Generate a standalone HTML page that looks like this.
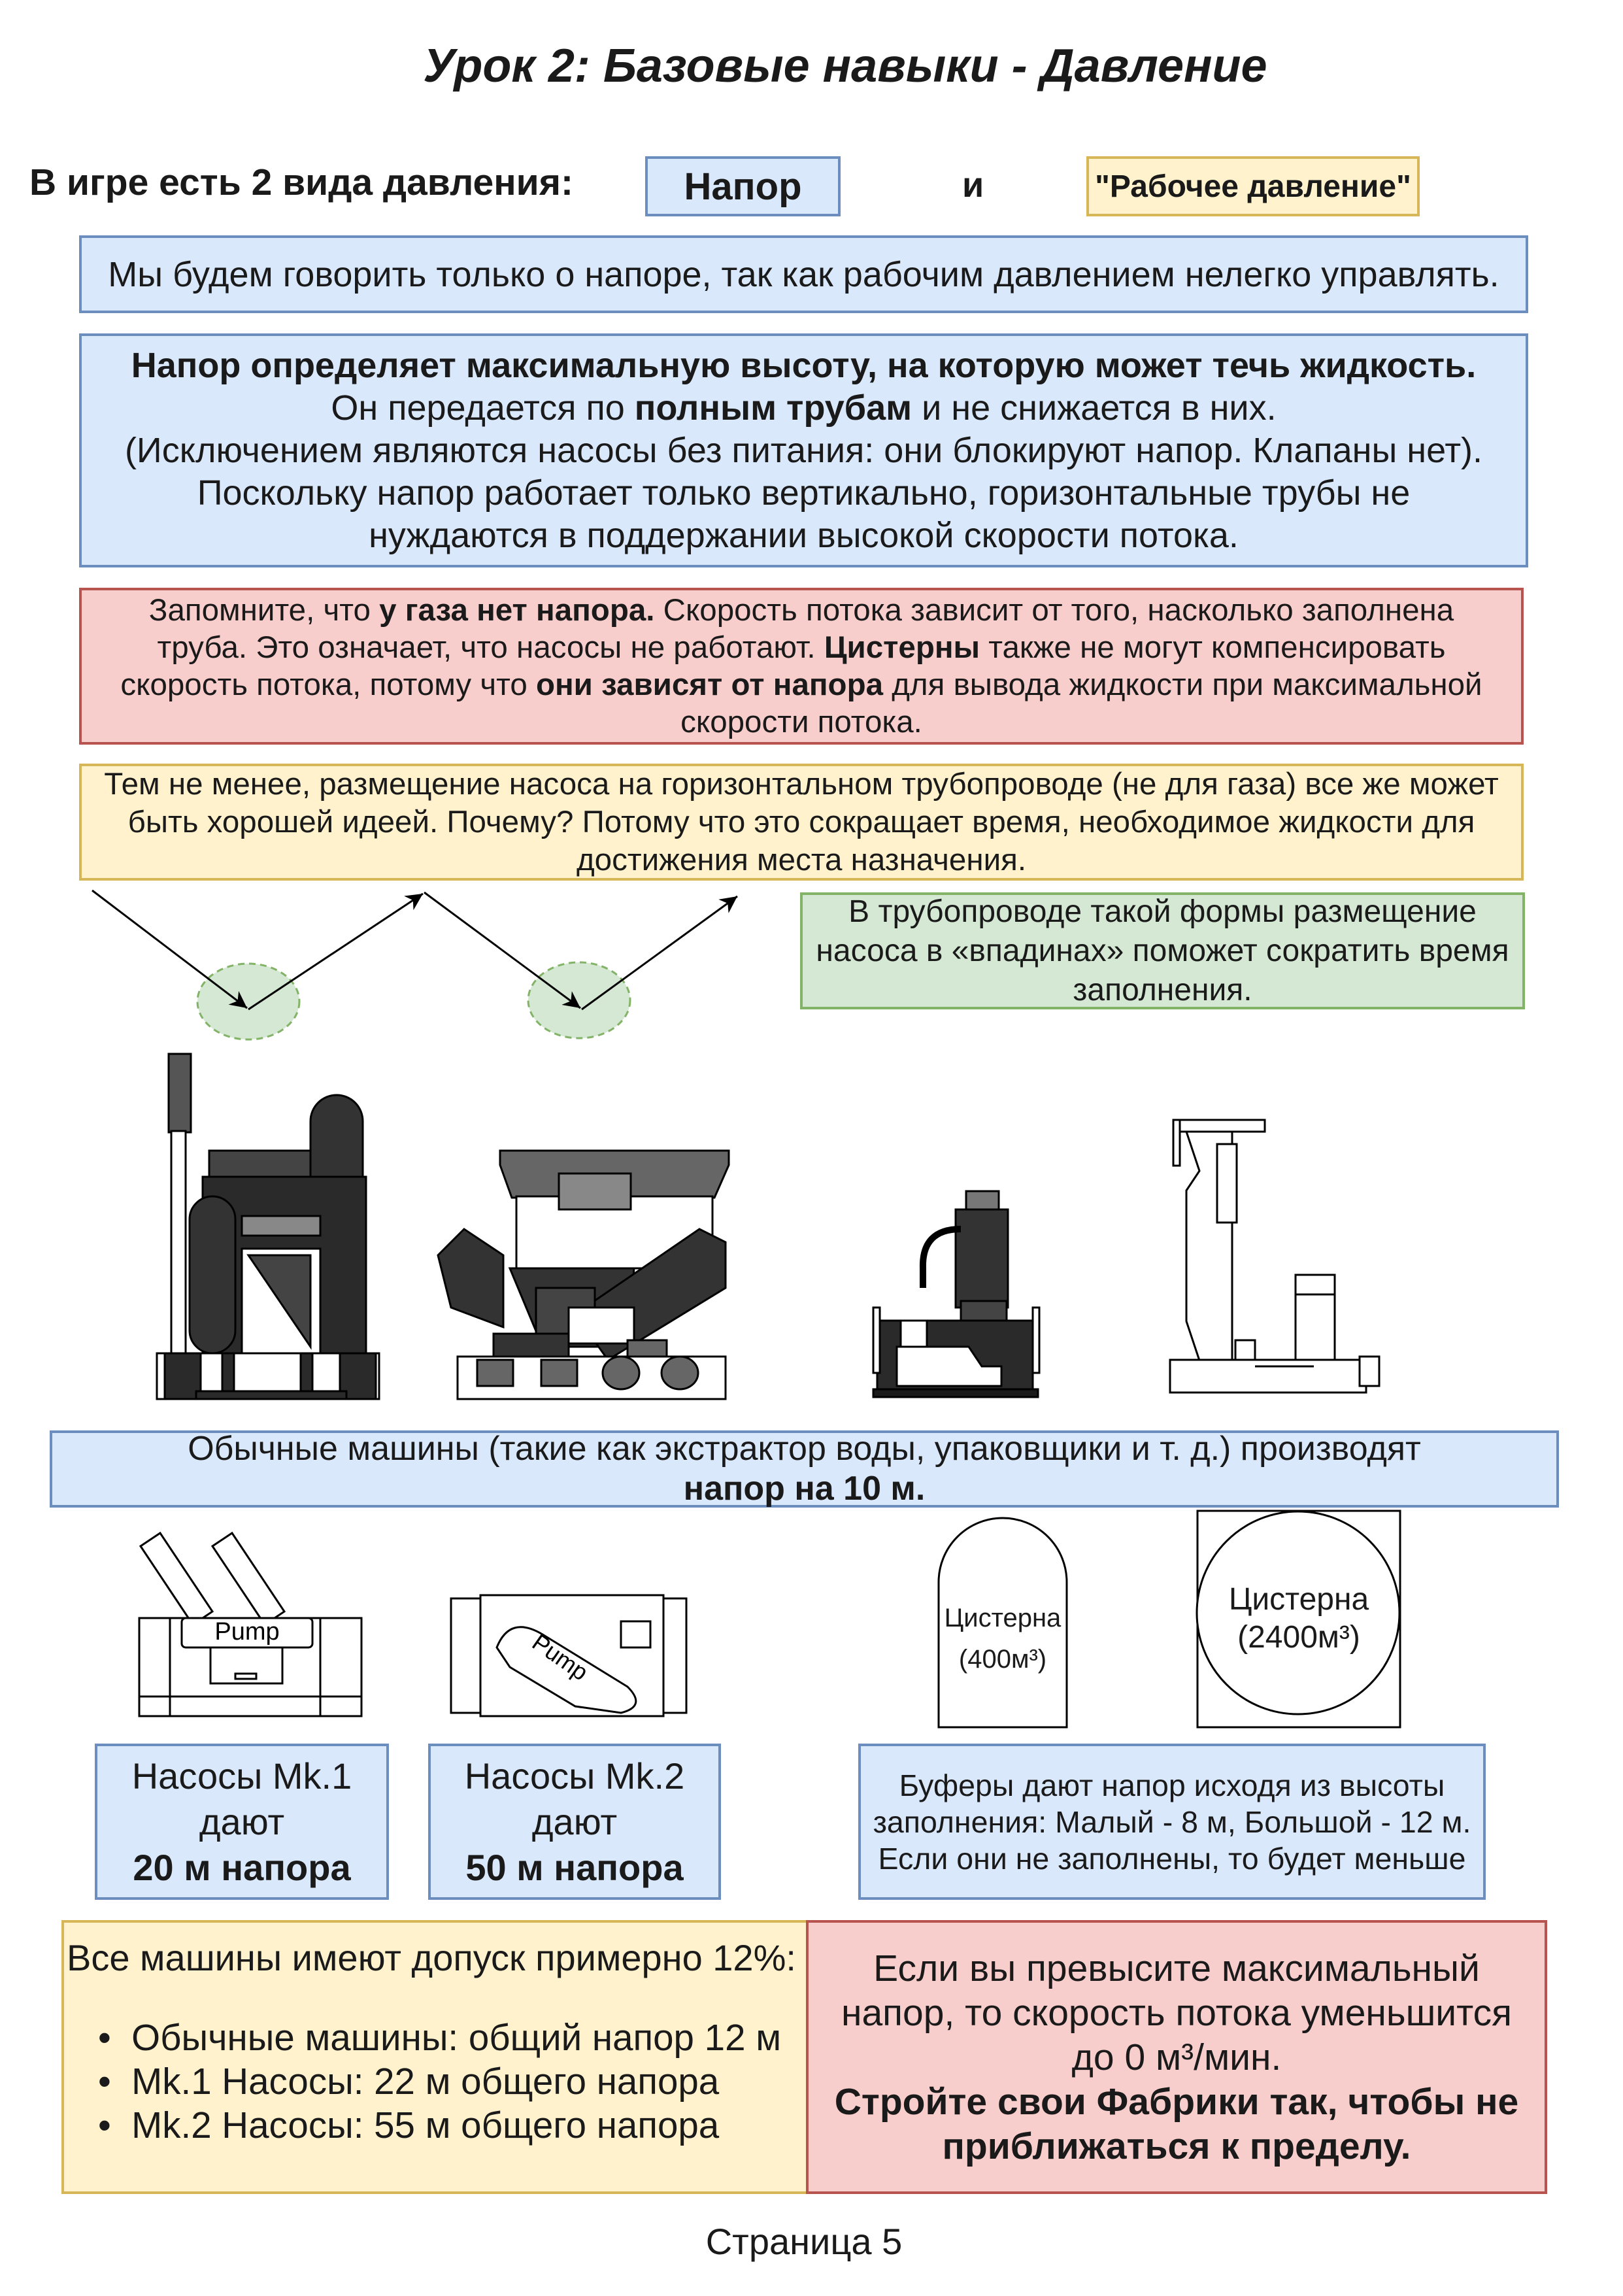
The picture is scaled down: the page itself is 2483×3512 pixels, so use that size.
<!DOCTYPE html>
<html><head><meta charset="utf-8"><style>
body{margin:0;background:#fff;}
#p{position:relative;width:2483px;height:3512px;overflow:hidden;font-family:"Liberation Sans",Arial,sans-serif;color:#1a1a1a;}
.b{position:absolute;box-sizing:border-box;border:4px solid;display:flex;align-items:center;justify-content:center;text-align:center;flex-direction:column;white-space:nowrap;}
.bl{background:#dae8fc;border-color:#6c8ebf;}
.ye{background:#fff2cc;border-color:#d6b656;}
.rd{background:#f8cecc;border-color:#b85450;}
.gr{background:#d5e8d4;border-color:#82b366;}
.t{position:absolute;white-space:nowrap;}
svg{position:absolute;left:0;top:0;}
</style></head><body><div id="p">
<svg width="2483" height="3512" viewBox="0 0 2483 3512">
<defs>
<marker id="m" markerWidth="26" markerHeight="26" refX="10" refY="5" orient="auto" markerUnits="userSpaceOnUse" viewBox="0 0 10 10"><path d="M0,0 L10,5 L0,10 L3,5z" fill="#000"/></marker></defs>
<ellipse cx="380" cy="1532" rx="78" ry="58" fill="#d5e8d4" stroke="#82b366" stroke-width="3" stroke-dasharray="10,7"/>
<ellipse cx="886" cy="1530" rx="78" ry="58" fill="#d5e8d4" stroke="#82b366" stroke-width="3" stroke-dasharray="10,7"/>
<g stroke="#000" stroke-width="3" fill="none" marker-end="url(#m)">
<line x1="141" y1="1362" x2="378" y2="1542"/>
<line x1="380" y1="1544" x2="647" y2="1367"/>
<line x1="649" y1="1365" x2="888" y2="1542"/>
<line x1="890" y1="1544" x2="1128" y2="1371"/>
</g>
<!-- machine 1 -->
<g stroke="#000" stroke-width="3">
<rect x="258" y="1612" width="34" height="120" fill="#555"/>
<rect x="262" y="1730" width="22" height="350" fill="#fff"/>
<path d="M320 1760 h170 v60 h-150 v80 h-20z" fill="#444"/>
<rect x="475" y="1675" width="80" height="400" rx="40" fill="#333"/>
<rect x="310" y="1800" width="250" height="340" fill="#2a2a2a"/>
<rect x="290" y="1830" width="70" height="240" rx="35" fill="#333"/>
<rect x="370" y="1860" width="120" height="30" fill="#888"/>
<rect x="370" y="1910" width="120" height="200" fill="#fff"/>
<path d="M380 1920 h95 v140z" fill="#444"/>
<rect x="240" y="2070" width="340" height="70" fill="#fff"/>
<rect x="252" y="2070" width="55" height="70" fill="#2a2a2a"/><rect x="520" y="2070" width="55" height="70" fill="#2a2a2a"/>
<rect x="340" y="2070" width="18" height="65" fill="#2a2a2a"/><rect x="460" y="2070" width="18" height="65" fill="#2a2a2a"/>
<rect x="300" y="2128" width="230" height="12" fill="#2a2a2a"/>
</g>
<!-- machine 2 -->
<g stroke="#000" stroke-width="3">
<path d="M765 1760 h350 v22 l-22 50 h-310 l-18-50z" fill="#666"/>
<rect x="790" y="1830" width="300" height="110" fill="#fff"/>
<rect x="855" y="1795" width="110" height="55" fill="#888"/>
<path d="M780 1940 h190 l-10 120 h-130z" fill="#333"/>
<path d="M670 1920 l40-40 l60 40 l0 110 l-80 -30z" fill="#333"/>
<path d="M880 2010 l190 -130 l40 20 l0 70 l-180 110z" fill="#333"/>
<rect x="820" y="1970" width="90" height="80" fill="#444"/>
<rect x="870" y="2000" width="100" height="55" fill="#fff"/>
<rect x="755" y="2040" width="115" height="72" fill="#333"/>
<rect x="960" y="2050" width="60" height="40" fill="#666"/>
<rect x="700" y="2075" width="410" height="65" fill="#fff"/>
<rect x="730" y="2080" width="55" height="40" fill="#666"/><rect x="828" y="2080" width="55" height="40" fill="#666"/>
<ellipse cx="950" cy="2100" rx="28" ry="25" fill="#666"/><ellipse cx="1040" cy="2100" rx="28" ry="25" fill="#666"/>
</g>
<!-- machine 3 -->
<g stroke="#000" stroke-width="3">
<rect x="1478" y="1822" width="50" height="30" fill="#777"/>
<rect x="1462" y="1850" width="80" height="150" fill="#333"/>
<path d="M1470 1880 q-60 0 -58 60 v30" stroke-width="10" fill="none"/>
<rect x="1470" y="1990" width="70" height="35" fill="#444"/>
<rect x="1342" y="2020" width="238" height="112" fill="#2a2a2a"/>
<rect x="1378" y="2020" width="40" height="40" fill="#fff"/>
<path d="M1372 2060 h110 l20 30 h30 v30 h-160z" fill="#fff"/>
<rect x="1336" y="2125" width="252" height="12" fill="#1a1a1a"/>
<rect x="1336" y="2000" width="10" height="100" fill="#fff"/><rect x="1580" y="2000" width="10" height="100" fill="#fff"/>
</g>
<!-- machine 4 -->
<g stroke="#000" stroke-width="3" fill="#fff">
<rect x="1795" y="1713" width="140" height="18"/>
<rect x="1795" y="1713" width="10" height="70"/>
<path d="M1815 1731 h70 v350 h-50 l-20 -60 v-200 l20 -30z"/>
<rect x="1862" y="1750" width="30" height="120"/>
<rect x="1982" y="1950" width="60" height="30"/>
<path d="M1982 1980 h60 v110 l-15 30 h-30 l-15 -30z"/>
<rect x="1790" y="2080" width="300" height="50"/>
<rect x="2080" y="2075" width="30" height="45"/>
<rect x="1890" y="2050" width="30" height="30"/>
<line x1="1920" y1="2090" x2="2010" y2="2090"/>
</g>
<!-- pump mk1 -->
<g stroke="#000" stroke-width="3" fill="#fff">
<path d="M215 2365 l30 -20 l80 120 l-30 20z"/>
<path d="M325 2365 l30 -20 l80 120 l-30 20z"/>
<rect x="213" y="2475" width="340" height="150"/>
<rect x="278" y="2475" width="200" height="45" rx="6"/>
<rect x="322" y="2520" width="110" height="55"/>
<rect x="360" y="2560" width="32" height="8"/>
<line x1="213" y1="2595" x2="553" y2="2595"/>
<line x1="490" y1="2475" x2="490" y2="2625"/>
<line x1="260" y1="2475" x2="260" y2="2625"/>
</g>
<text x="378" y="2508" font-family="Liberation Sans,sans-serif" font-size="38" text-anchor="middle" fill="#000">Pump</text>
<!-- pump mk2 -->
<g stroke="#000" stroke-width="3" fill="#fff">
<rect x="690" y="2445" width="360" height="175"/>
<rect x="735" y="2440" width="280" height="185"/>
<path d="M760 2520 q20 -50 70 -20 l130 80 q30 30 -10 40 l-70 -10 l-100 -60z"/>
<rect x="950" y="2480" width="45" height="40"/>
</g>
<text x="850" y="2545" font-family="Liberation Sans,sans-serif" font-size="36" fill="#000" transform="rotate(35 850 2545)" text-anchor="middle">Pump</text>
<!-- tanks -->
<path d="M1436 2642 V2420 A98 98 0 0 1 1632 2420 V2642 Z" fill="#fff" stroke="#000" stroke-width="3"/>
<rect x="1832" y="2311" width="310" height="331" fill="#fff" stroke="#000" stroke-width="3"/>
<circle cx="1986" cy="2467" r="155" fill="#fff" stroke="#000" stroke-width="3"/>
</svg>

<div class="t" style="left:0;width:2586px;top:60px;font-size:72px;font-weight:bold;font-style:italic;text-align:center;">Урок 2: Базовые навыки - Давление</div>
<div class="t" style="left:45px;top:246px;font-size:57px;font-weight:bold;">В игре есть 2 вида давления:</div>
<div class="b bl" style="left:987px;top:239px;width:299px;height:92px;font-size:58px;font-weight:bold;">Напор</div>
<div class="t" style="left:1472px;top:252px;font-size:54px;font-weight:bold;">и</div>
<div class="b ye" style="left:1662px;top:239px;width:510px;height:92px;font-size:48px;font-weight:bold;">"Рабочее давление"</div>
<div class="b bl" style="left:121px;top:360px;width:2217px;height:119px;font-size:54px;">Мы будем говорить только о напоре, так как рабочим давлением нелегко управлять.</div>
<div class="b bl" style="left:121px;top:510px;width:2217px;height:358px;font-size:54px;line-height:65px;"><div><b>Напор определяет максимальную высоту, на которую может течь жидкость.</b><br>Он передается по <b>полным трубам</b> и не снижается в них.<br>(Исключением являются насосы без питания: они блокируют напор. Клапаны нет).<br>Поскольку напор работает только вертикально, горизонтальные трубы не<br>нуждаются в поддержании высокой скорости потока.</div></div>
<div class="b rd" style="left:121px;top:899px;width:2210px;height:240px;font-size:47.5px;line-height:57px;"><div>Запомните, что <b>у газа нет напора.</b> Скорость потока зависит от того, насколько заполнена<br>труба. Это означает, что насосы не работают. <b>Цистерны</b> также не могут компенсировать<br>скорость потока, потому что <b>они зависят от напора</b> для вывода жидкости при максимальной<br>скорости потока.</div></div>
<div class="b ye" style="left:121px;top:1168px;width:2210px;height:179px;font-size:47.5px;line-height:58px;"><div>Тем не менее, размещение насоса на горизонтальном трубопроводе (не для газа) все же может<br>быть хорошей идеей. Почему? Потому что это сокращает время, необходимое жидкости для<br>достижения места назначения.</div></div>
<div class="b gr" style="left:1224px;top:1365px;width:1109px;height:179px;font-size:48px;line-height:60px;"><div>В трубопроводе такой формы размещение<br>насоса в «впадинах» поможет сократить время<br>заполнения.</div></div>
<div class="b bl" style="left:76px;top:2188px;width:2309px;height:118px;font-size:52px;line-height:61px;"><div>Обычные машины (такие как экстрактор воды, упаковщики и т. д.) производят<br><b>напор на 10 м.</b></div></div>
<div class="t" style="left:1436px;width:196px;top:2444px;font-size:40px;text-align:center;line-height:63px;">Цистерна<br>(400м³)</div>
<div class="t" style="left:1832px;width:310px;top:2418px;font-size:48px;text-align:center;line-height:58px;">Цистерна<br>(2400м³)</div>
<div class="b bl" style="left:145px;top:2667px;width:450px;height:239px;font-size:56px;line-height:70px;"><div>Насосы Mk.1<br>дают<br><b>20 м напора</b></div></div>
<div class="b bl" style="left:655px;top:2667px;width:448px;height:239px;font-size:56px;line-height:70px;"><div>Насосы Mk.2<br>дают<br><b>50 м напора</b></div></div>
<div class="b bl" style="left:1313px;top:2667px;width:960px;height:239px;font-size:46.5px;line-height:56px;"><div>Буферы дают напор исходя из высоты<br>заполнения: Малый - 8 м, Большой - 12 м.<br>Если они не заполнены, то будет меньше</div></div>
<div class="b ye" style="left:94px;top:2937px;width:1143px;height:419px;"></div>
<div class="t" style="left:102px;top:2962px;font-size:56px;">Все машины имеют допуск примерно 12%:</div>
<div class="t" style="left:150px;top:3083px;font-size:56.5px;line-height:67px;">•&nbsp; Обычные машины: общий напор 12 м<br>•&nbsp; Mk.1 Насосы: 22 м общего напора<br>•&nbsp; Mk.2 Насосы: 55 м общего напора</div>
<div class="b rd" style="left:1233px;top:2937px;width:1134px;height:419px;font-size:57px;line-height:68px;"><div>Если вы превысите максимальный<br>напор, то скорость потока уменьшится<br>до 0 м³/мин.<br><b>Стройте свои Фабрики так, чтобы не<br>приближаться к пределу.</b></div></div>
<div class="t" style="left:0;width:2460px;top:3396px;font-size:56px;text-align:center;">Страница 5</div>
</div></body></html>
